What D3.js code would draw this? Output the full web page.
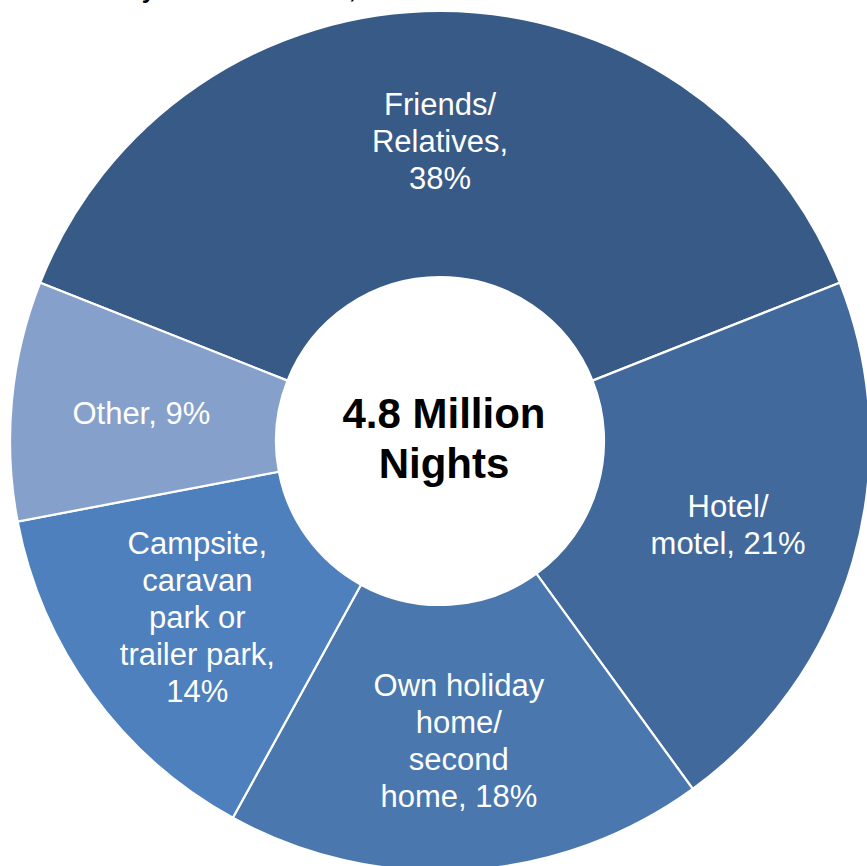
<!DOCTYPE html>
<html>
<head>
<meta charset="utf-8">
<script src="https://cdn.jsdelivr.net/npm/d3@7"></script>
<style>
  html, body { margin: 0; padding: 0; background: #ffffff; }
  svg { display: block; }
  text { font-family: "Liberation Sans", Arial, sans-serif; }
</style>
</head>
<body>
<svg id="chart" width="867" height="866"></svg>
<script>
const categories = ["Friends/Relatives", "Hotel/motel", "Own holiday home/second home", "Campsite, caravan park or trailer park", "Other"];
const values = [38, 21, 18, 14, 9];
const labelLines = [
  ["Friends/", "Relatives,", "38%"],
  ["Hotel/", "motel, 21%"],
  ["Own holiday", "home/", "second", "home, 18%"],
  ["Campsite,", "caravan", "park or", "trailer park,", "14%"],
  ["Other, 9%"]
];
const colors = ["#375A86", "#41699B", "#4A77AD", "#4D80BC", "#85A0CA"];
const centerLines = ["4.8 Million", "Nights"];

const svg = d3.select("#chart");
const cx = 440, cy = 441, R = 430, r0 = 164, rLabel = 300;

// title, mostly above the visible area (only descenders show, as in the reference)
svg.append("text")
  .attr("x", 155).attr("y", -2)
  .attr("text-anchor", "end")
  .attr("font-size", 24).attr("font-weight", "bold").attr("fill", "#000")
  .text("Visitor Stats by");
svg.append("text")
  .attr("x", 161).attr("y", -2)
  .attr("text-anchor", "start")
  .attr("font-size", 24).attr("font-weight", "bold").attr("fill", "#000")
  .text("Accommodation, 2019");

const data = categories.map((c, i) => ({ cat: c, value: values[i], lines: labelLines[i], color: colors[i] }));

const pie = d3.pie().value(d => d.value).sort(null)
  .startAngle(-values[0] / 100 * Math.PI)
  .endAngle(2 * Math.PI - values[0] / 100 * Math.PI);
const arcs = pie(data);

const arc = d3.arc().innerRadius(r0).outerRadius(R);
const labelArc = d3.arc().innerRadius(rLabel).outerRadius(rLabel);

const g = svg.append("g").attr("transform", `translate(${cx},${cy})`);

g.selectAll("path.slice").data(arcs).enter().append("path")
  .attr("class", "slice")
  .attr("d", arc)
  .attr("fill", d => d.data.color)
  .attr("stroke", "#ffffff")
  .attr("stroke-width", 2.2);

const lineH = 37;
const labels = g.selectAll("text.lbl").data(arcs).enter().append("text")
  .attr("class", "lbl")
  .attr("transform", d => `translate(${labelArc.centroid(d)})`)
  .attr("text-anchor", "middle")
  .attr("font-size", 31)
  .attr("fill", "#ffffff");

labels.each(function(d) {
  const n = d.data.lines.length;
  d3.select(this).selectAll("tspan").data(d.data.lines).enter().append("tspan")
    .attr("x", 0)
    .attr("y", (l, i) => (i - (n - 1) / 2) * lineH + 11)
    .text(l => l);
});

const ct = g.append("text")
  .attr("text-anchor", "middle")
  .attr("font-size", 42)
  .attr("font-weight", "bold")
  .attr("fill", "#000000");
ct.selectAll("tspan").data(centerLines).enter().append("tspan")
  .attr("x", 4)
  .attr("y", (l, i) => -13 + i * 50)
  .text(l => l);
</script>
</body>
</html>
